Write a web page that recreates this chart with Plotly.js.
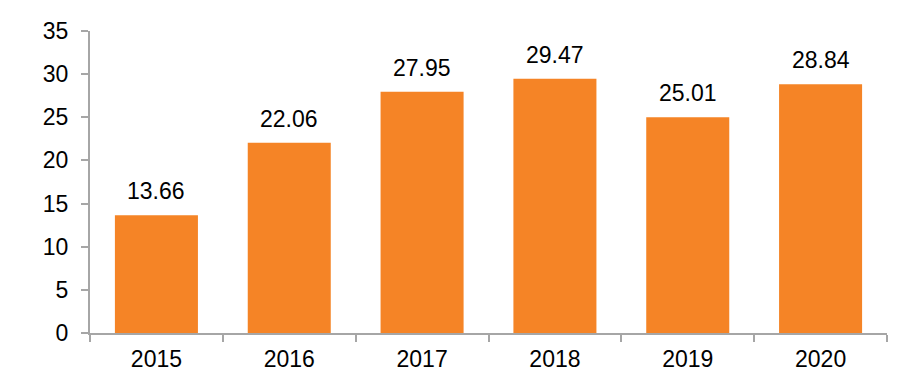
<!DOCTYPE html>
<html>
<head>
<meta charset="utf-8">
<script src="https://cdn.plot.ly/plotly-3.0.1.min.js"></script>
<style>html,body{margin:0;padding:0;background:#fff;}#chart{width:912px;height:377px;}</style>
</head>
<body>
<div id="chart"></div>
<script>
const years = ['2015', '2016', '2017', '2018', '2019', '2020'];
const values = [13.66, 22.06, 27.95, 29.47, 25.01, 28.84];
const yTicks = [0, 5, 10, 15, 20, 25, 30, 35];

const font = {family: 'Liberation Sans, Arial, sans-serif', size: 23, color: '#000'};

const trace = {
  type: 'bar',
  x: years,
  y: values,
  marker: {color: '#F58426', line: {width: 0}},
  width: 0.625,
  hoverinfo: 'skip'
};

const annotations = years.map((yr, i) => ({
  x: i, y: values[i], xref: 'x', yref: 'y',
  text: values[i].toFixed(2), showarrow: false,
  yanchor: 'bottom', yshift: 9, font: font
}));

const layout = {
  width: 912, height: 377,
  margin: {l: 90, r: 25, t: 31, b: 44},
  paper_bgcolor: '#fff', plot_bgcolor: '#fff',
  showlegend: false,
  font: font,
  xaxis: {
    type: 'category',
    range: [-0.5, 5.5],
    showline: true, linecolor: '#A6A6A6', linewidth: 2,
    ticks: 'outside', tickson: 'boundaries', ticklen: 7, tickcolor: '#A6A6A6', tickwidth: 2,
    showgrid: false, zeroline: false,
    tickangle: 0,
    ticklabelstandoff: 4,
    tickfont: font
  },
  yaxis: {
    range: [0, 35],
    tickvals: yTicks,
    showline: true, linecolor: '#A6A6A6', linewidth: 2,
    ticks: 'outside', ticklen: 7, tickcolor: '#A6A6A6', tickwidth: 2,
    showgrid: false, zeroline: false,
    ticklabelstandoff: 8,
    tickfont: font
  },
  annotations: annotations
};

Plotly.newPlot('chart', [trace], layout, {displayModeBar: false, staticPlot: true});
</script>
</body>
</html>
